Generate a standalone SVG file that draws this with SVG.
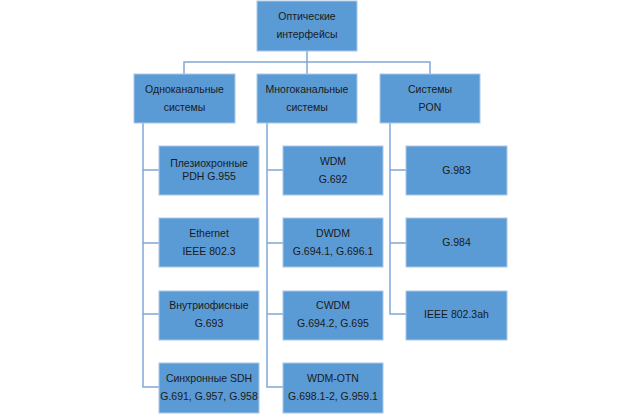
<svg xmlns="http://www.w3.org/2000/svg" width="639" height="414" viewBox="0 0 639 414">
<style>
.box{fill:#5B9BD5;stroke:#A9C8EA;stroke-width:1}
.t{font-family:"Liberation Sans",Arial,sans-serif;font-size:10.5px;fill:#1a1a1a;text-anchor:middle}
.c{fill:none;stroke:#7FA8D8;stroke-width:1.5}
</style>
<rect width="639" height="414" fill="#ffffff"/>
<g id="connectors">
<path class="c" d="M307 51V74M184 74V62H430V74"/>
<path class="c" d="M143 123V387H159M143 170H159M143 243H159M143 314H159"/>
<path class="c" d="M267 123V387H283M267 170H283M267 243H283M267 314H283"/>
<path class="c" d="M390 123V314H406M390 170H406M390 243H406"/>
</g>
<g id="n0"><rect class="box" x="257" y="1" width="100" height="50"/><text class="t" x="307" y="20">Оптические</text><text class="t" x="307" y="38">интерфейсы</text></g>
<g id="n1"><rect class="box" x="134" y="74" width="101" height="49"/><text class="t" x="184.5" y="93">Одноканальные</text><text class="t" x="184.5" y="111">системы</text></g>
<g id="n2"><rect class="box" x="257" y="74" width="100" height="49"/><text class="t" x="307" y="93">Многоканальные</text><text class="t" x="307" y="111">системы</text></g>
<g id="n3"><rect class="box" x="380" y="74" width="100" height="49"/><text class="t" x="430" y="93">Системы</text><text class="t" x="430" y="111">PON</text></g>
<g id="n4"><rect class="box" x="159" y="146" width="100" height="49"/><text class="t" x="209" y="167">Плезиохронные</text><text class="t" x="209" y="180">PDH G.955</text></g>
<g id="n5"><rect class="box" x="159" y="218" width="100" height="49"/><text class="t" x="209" y="237">Ethernet</text><text class="t" x="209" y="255">IEEE 802.3</text></g>
<g id="n6"><rect class="box" x="159" y="291" width="100" height="49"/><text class="t" x="209" y="309">Внутриофисные</text><text class="t" x="209" y="327">G.693</text></g>
<g id="n7"><rect class="box" x="159" y="363" width="100" height="50"/><text class="t" x="209" y="382">Синхронные SDH</text><text class="t" x="209" y="400">G.691, G.957, G.958</text></g>
<g id="n8"><rect class="box" x="283" y="146" width="100" height="49"/><text class="t" x="333" y="165">WDM</text><text class="t" x="333" y="183">G.692</text></g>
<g id="n9"><rect class="box" x="283" y="218" width="100" height="49"/><text class="t" x="333" y="237">DWDM</text><text class="t" x="333" y="255">G.694.1, G.696.1</text></g>
<g id="n10"><rect class="box" x="283" y="291" width="100" height="49"/><text class="t" x="333" y="309">CWDM</text><text class="t" x="333" y="327">G.694.2, G.695</text></g>
<g id="n11"><rect class="box" x="283" y="363" width="100" height="50"/><text class="t" x="333" y="382">WDM-OTN</text><text class="t" x="333" y="400">G.698.1-2, G.959.1</text></g>
<g id="n12"><rect class="box" x="406" y="146" width="101" height="49"/><text class="t" x="456.5" y="174">G.983</text></g>
<g id="n13"><rect class="box" x="406" y="218" width="101" height="49"/><text class="t" x="456.5" y="246">G.984</text></g>
<g id="n14"><rect class="box" x="406" y="291" width="101" height="49"/><text class="t" x="456.5" y="318">IEEE 802.3ah</text></g>
</svg>
